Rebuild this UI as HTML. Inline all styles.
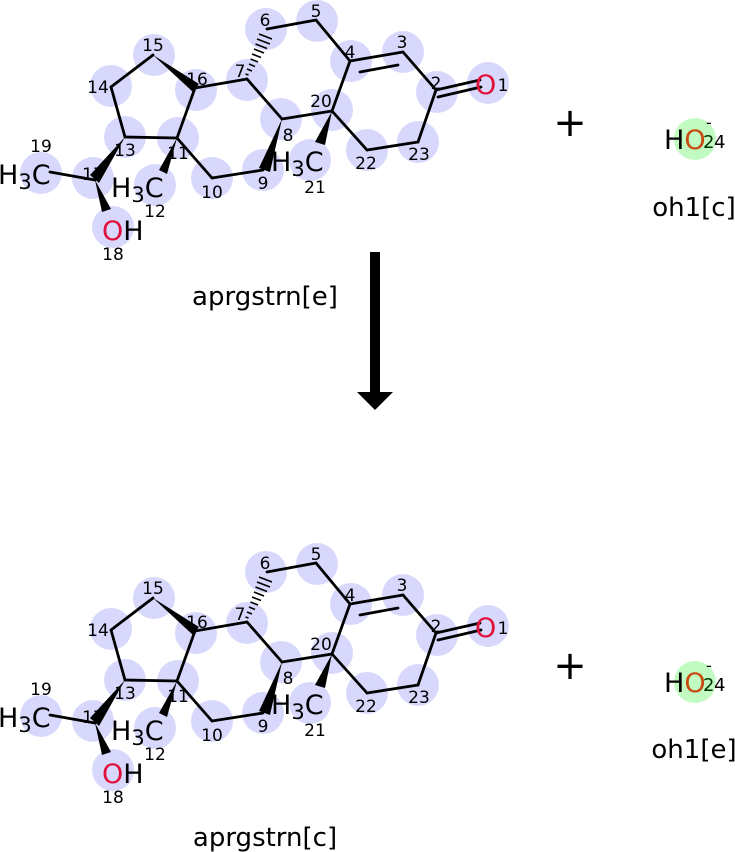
<!DOCTYPE html>
<html><head><meta charset="utf-8"><style>
html,body{margin:0;padding:0;background:#fff;}
svg{display:block;font-family:"DejaVu Sans","Liberation Sans",sans-serif;}
</style></head><body>
<svg width="735" height="852" viewBox="0 0 735 852" xmlns="http://www.w3.org/2000/svg">
<defs>
<g id="mol">
  <g fill="#d8d8fd">
    <circle cx="488" cy="83" r="21"/><circle cx="437" cy="92" r="21"/><circle cx="403" cy="52" r="21"/>
    <circle cx="351" cy="61" r="21"/><circle cx="317" cy="21" r="21"/><circle cx="266" cy="29" r="21"/>
    <circle cx="247" cy="80" r="21"/><circle cx="281" cy="119" r="21"/><circle cx="263" cy="170" r="21"/>
    <circle cx="212" cy="178" r="21"/><circle cx="178" cy="138" r="21"/><circle cx="155" cy="185" r="21"/>
    <circle cx="125" cy="137" r="21"/><circle cx="111" cy="86" r="21"/><circle cx="154" cy="55" r="21"/>
    <circle cx="196" cy="90" r="21"/><circle cx="93" cy="178" r="21"/><circle cx="113" cy="227" r="21"/>
    <circle cx="41" cy="173" r="21"/><circle cx="332" cy="110" r="21"/><circle cx="310" cy="160" r="21"/>
    <circle cx="367" cy="150" r="21"/><circle cx="418" cy="142" r="21"/>
  </g>
  <g stroke="#000" stroke-width="2.8" fill="none" stroke-linecap="round">
    <line x1="436" y1="90" x2="480" y2="80"/>
    <line x1="438" y1="97" x2="481" y2="87"/>
    <line x1="436" y1="90" x2="403" y2="52"/>
    <line x1="403" y1="52" x2="350" y2="61"/>
    <line x1="360" y1="72" x2="398" y2="65"/>
    <line x1="350" y1="61" x2="316" y2="20"/>
    <line x1="316" y1="20" x2="267" y2="29"/>
    <line x1="247" y1="79" x2="195" y2="88"/>
    <line x1="247" y1="79" x2="282" y2="119"/>
    <line x1="282" y1="119" x2="332" y2="111"/>
    <line x1="332" y1="111" x2="350" y2="61"/>
    <line x1="332" y1="111" x2="367" y2="150"/>
    <line x1="367" y1="150" x2="418" y2="142"/>
    <line x1="418" y1="142" x2="436" y2="90"/>
    <line x1="263" y1="170" x2="212" y2="178"/>
    <line x1="212" y1="178" x2="177" y2="138"/>
    <line x1="177" y1="138" x2="195" y2="88"/>
    <line x1="177" y1="138" x2="125" y2="137"/>
    <line x1="125" y1="137" x2="111" y2="87"/>
    <line x1="111" y1="87" x2="153" y2="55"/>
    <line x1="95" y1="180" x2="50" y2="172"/>
  </g>
  <g fill="#000">
    <polygon points="153,55 193,92 199,84"/>
    <polygon points="282,119 259,168 270,172"/>
    <polygon points="332,111 315,142 325,145"/>
    <polygon points="177,138 159,170 167,174"/>
    <polygon points="125,137 90,175 99,183"/>
    <polygon points="95,180 102,212 111,209"/>
  </g>
  <g stroke="#000" stroke-width="1.6">
    <line x1="245.5" y1="74" x2="248.5" y2="75"/>
    <line x1="247" y1="69" x2="252" y2="71"/>
    <line x1="249" y1="64" x2="255" y2="66.5"/>
    <line x1="250.5" y1="59" x2="258" y2="62"/>
    <line x1="252" y1="54" x2="261" y2="57.5"/>
    <line x1="254" y1="49" x2="264" y2="53"/>
    <line x1="255.5" y1="44" x2="267" y2="48.5"/>
    <line x1="257" y1="39" x2="270" y2="44"/>
    <line x1="259" y1="34" x2="272" y2="39"/>
  </g>
  <g font-size="17" text-anchor="middle" fill="#000">
    <text x="503" y="91">1</text><text x="436" y="89">2</text><text x="402" y="48">3</text>
    <text x="350" y="58">4</text><text x="316" y="17">5</text><text x="265" y="26">6</text>
    <text x="240" y="77">7</text><text x="288" y="141">8</text><text x="263" y="189">9</text>
    <text x="212" y="198">10</text><text x="178" y="159">11</text><text x="155" y="217">12</text>
    <text x="125" y="156">13</text><text x="98" y="93">14</text><text x="153" y="51">15</text>
    <text x="197" y="85">16</text><text x="93" y="180">17</text><text x="113" y="260">18</text>
    <text x="41" y="152">19</text><text x="321" y="107">20</text><text x="315" y="193">21</text>
    <text x="366" y="169">22</text><text x="419" y="160">23</text>
  </g>
  <g font-size="27" fill="#000">
    <text x="475" y="94" fill="#e0103a">O</text>
    <text x="-2" y="184">H<tspan font-size="21" dy="5">3</tspan><tspan dy="-5">C</tspan></text>
    <text x="111" y="197">H<tspan font-size="21" dy="5">3</tspan><tspan dy="-5">C</tspan></text>
    <text x="271" y="171">H<tspan font-size="21" dy="5">3</tspan><tspan dy="-5">C</tspan></text>
    <text x="102" y="240"><tspan fill="#e0103a">O</tspan>H</text>
  </g>
  <g font-size="40" text-anchor="middle"><text x="570" y="136">+</text></g>
  <circle cx="695" cy="139" r="21" fill="#c2fbc2"/>
  <text x="664" y="149" font-size="27" fill="#000">H<tspan fill="#c84a10">O</tspan></text>
  <text x="706" y="128" font-size="16" fill="#000">-</text>
  <text x="703" y="148" font-size="18" fill="#003300">2</text>
  <text x="714" y="148" font-size="18" fill="#000">4</text>
</g>
</defs>
<use href="#mol"/>
<use href="#mol" transform="translate(0,543)"/>
<g font-size="26" fill="#000">
  <text x="694" y="216" text-anchor="middle">oh1[c]</text>
  <text x="694" y="758" text-anchor="middle">oh1[e]</text>
  <text x="265" y="305" text-anchor="middle">aprgstrn[e]</text>
  <text x="265" y="846" text-anchor="middle">aprgstrn[c]</text>
</g>
<rect x="370" y="252" width="10" height="142" fill="#000"/>
<polygon points="357,392 393,392 375,410" fill="#000"/>
</svg>
</body></html>
